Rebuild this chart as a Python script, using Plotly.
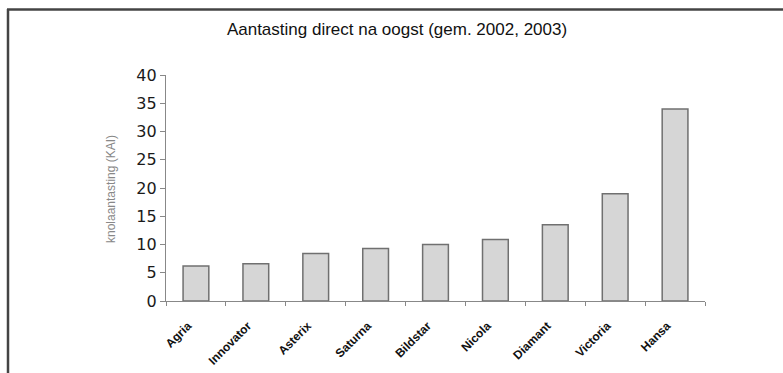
import plotly.graph_objects as go

categories = ["Agria", "Innovator", "Asterix", "Saturna", "Bildstar", "Nicola", "Diamant", "Victoria", "Hansa"]
values = [6.2, 6.6, 8.4, 9.3, 10.0, 10.9, 13.5, 19.0, 34.0]
title_text = "Aantasting direct na oogst (gem. 2002, 2003)"
ytitle_text = "knolaantasting (KAI)"

W, H = 783, 373
L, R, T, B = 166, 78, 75, 72
pw, ph = W - L - R, H - T - B

def px_to_paper_x(px):
    return (px - L) / pw

def px_to_paper_y(py):
    return (H - B - py) / ph

fig = go.Figure(go.Bar(
    x=categories, y=values,
    width=0.43,
    marker=dict(color="#d6d6d6", line=dict(color="#707070", width=1.5)),
))

fig.update_layout(
    width=W, height=H,
    margin=dict(l=L, r=R, t=T, b=B, autoexpand=False),
    paper_bgcolor="white", plot_bgcolor="white",
    showlegend=False,
    title=dict(text=title_text, x=397 / W, xanchor="center", y=1 - 29 / H, yanchor="middle",
               font=dict(family="Liberation Sans, Arial", size=17, color="#111")),
    font=dict(family="Liberation Sans, Arial", color="#222"),
)

fig.update_xaxes(
    automargin=False,
    showline=True, linecolor="#888", linewidth=1.2,
    ticks="outside", ticklen=4, tickcolor="#888", tickson="boundaries",
    tickangle=-45, ticklabelstandoff=12, ticklabelshift=-8,
    tickfont=dict(family="Liberation Sans, Arial", size=12, color="#111", weight="bold"),
    showgrid=False, zeroline=False,
)
fig.update_yaxes(
    automargin=False,
    range=[0, 40], dtick=5,
    showline=True, linecolor="#888", linewidth=1.2,
    ticks="outside", ticklen=5, tickcolor="#888",
    tickfont=dict(family="DejaVu Sans", size=16, color="#1a1a1a"),
    showgrid=False, zeroline=False,
)

fig.add_annotation(
    text=ytitle_text, xref="paper", yref="paper",
    x=px_to_paper_x(102), y=px_to_paper_y(189), textangle=-90,
    showarrow=False, font=dict(family="Liberation Sans, Arial", size=12, color="#888"),
)

# frame (left and top edges)
fig.add_shape(type="line", xref="paper", yref="paper",
              x0=px_to_paper_x(8), x1=px_to_paper_x(8), y0=px_to_paper_y(9), y1=px_to_paper_y(H + 5),
              line=dict(color="#444", width=2.5))
fig.add_shape(type="line", xref="paper", yref="paper",
              x0=px_to_paper_x(7), x1=px_to_paper_x(W + 5), y0=px_to_paper_y(9.5), y1=px_to_paper_y(9.5),
              line=dict(color="#444", width=2.5))

fig.write_html("out.html")
